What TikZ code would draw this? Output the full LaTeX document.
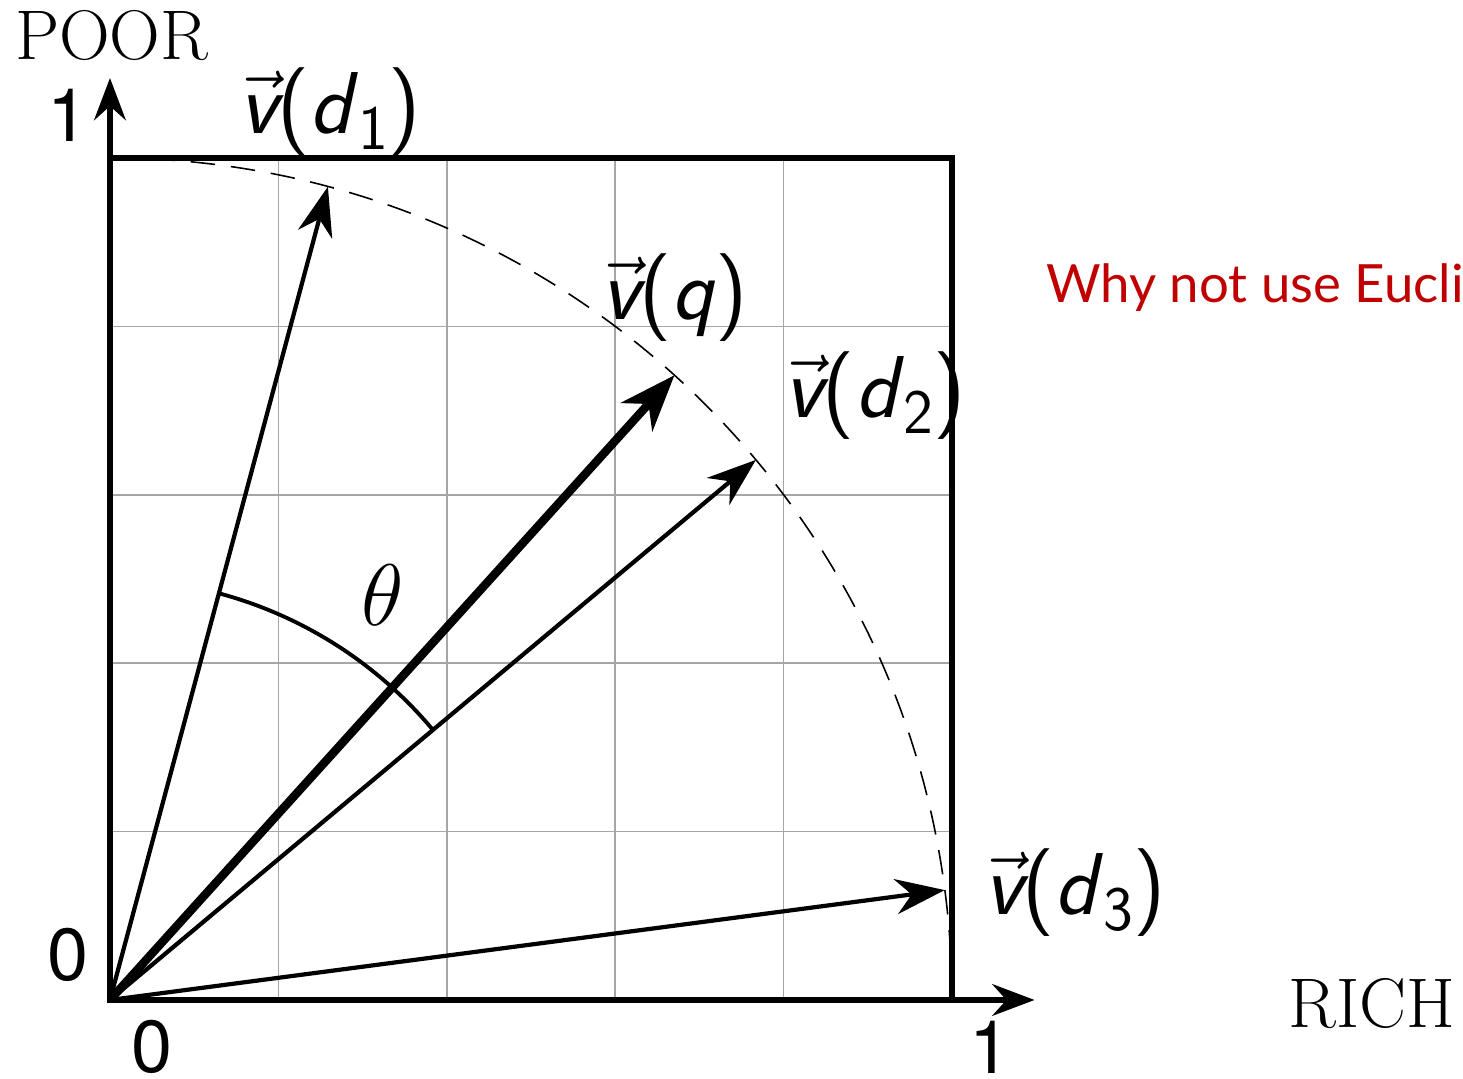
\documentclass[tikz,border=0pt]{standalone}
\usepackage{fontspec}
\newfontfamily\notefont{Lato}
\newfontfamily\tickfont{TeX Gyre Heros}
\usetikzlibrary{arrows.meta}
\definecolor{notered}{RGB}{192,0,0}

% sans-serif vector label, e.g. \vlab{d}{1}
\newcommand{\vlab}[2]{\textsf{$\vec{\textsl{\textsf{v}}}$(\textsl{#1}\raisebox{-0.18em}{\fontsize{18}{18}\selectfont #2})}}

\begin{document}
\begin{tikzpicture}[x=8.42cm, y=8.42cm, >={Stealth[length=14pt, width=10pt, inset=4.5pt]},
    gridline/.style={gray!70, line width=0.45pt},
    frame/.style={line width=1.6pt},
    vec/.style={->, line width=1.2pt},
    qvec/.style={->, line width=2.4pt, >={Stealth[length=16pt, width=12pt, inset=5pt]}},
    unitarc/.style={dashed, dash pattern=on 7pt off 4.5pt, line width=0.45pt},
    veclabel/.style={font=\fontsize{25}{25}\selectfont},
    ticklabel/.style={font=\tickfont\fontsize{21}{21}\selectfont},
    axislabel/.style={font=\fontsize{20}{20}\selectfont}]

    % page size
    \useasboundingbox (-0.1306, -0.0938) rectangle (1.6069, 1.1876);

    % grid and frame
    \draw[gridline] (0,0) grid[step=0.2] (1,1);
    \draw[frame] (0,0) rectangle (1,1);

    % axes
    \coordinate (O) at (0,0);
    \coordinate (xend) at (1.098,0);
    \coordinate (yend) at (0,1.095);
    \draw[frame, ->, >={Stealth[length=12pt, width=9pt, inset=4pt]}] (O) -- (xend);
    \draw[frame, ->, >={Stealth[length=12pt, width=9pt, inset=4pt]}] (O) -- (yend);

    % unit circle
    \draw[unitarc] (0,1) arc[start angle=90, end angle=0, radius=1];

    % vectors
    \coordinate (d1) at (75:1);
    \coordinate (q) at (47.9:1);
    \coordinate (d2) at (39.9:1);
    \coordinate (d3) at (7.5:1);
    \draw[vec] (O) -- (d1);
    \draw[qvec] (O) -- (q);
    \draw[vec] (O) -- (d2);
    \draw[vec] (O) -- (d3);

    % angle between d1 and d2
    \draw[line width=1.1pt] (75:0.5) arc[start angle=75, end angle=39.9, radius=0.5];
    \node[font=\fontsize{23}{23}\selectfont] (theta) at (0.324, 0.481) {$\theta$};

    % vector labels
    \node[veclabel] (ld1) at (0.261, 1.055) {\vlab{d}{1}};
    \node[veclabel] (lq) at (0.671, 0.834) {\textsf{$\vec{\textsl{\textsf{v}}}$(\textsl{q})}};
    \node[veclabel] (ld2) at (0.909, 0.718) {\vlab{d}{2}};
    \node[veclabel] (ld3) at (1.146, 0.127) {\vlab{d}{3}};

    % ticks
    \node[ticklabel] (y1) at (-0.05, 1.051) {1};
    \node[ticklabel] (y0) at (-0.05, 0.053) {0};
    \node[ticklabel] (x0) at (0.05, -0.056) {0};
    \node[ticklabel] (x1) at (1.045, -0.056) {1};

    % axis names
    \node[axislabel] (poor) at (0.002, 1.146) {POOR};
    \node[axislabel] (rich) at (1.499, -0.004) {RICH};

    % note, cut off at the right edge
    \node[anchor=west, inner sep=0pt, text=notered, font=\notefont\fontsize{15}{15}\selectfont] (note) at (1.111, 0.846) {Why not use Euclidean distance?};

\end{tikzpicture}
\end{document}
